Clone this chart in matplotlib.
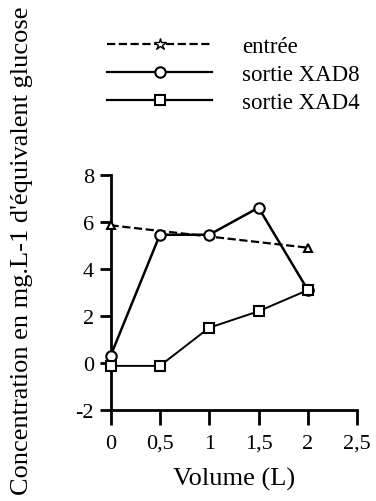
import matplotlib.pyplot as plt
from matplotlib.lines import Line2D

# data
volume = [0, 0.5, 1.0, 1.5, 2.0]
entree_x = [0, 2.0]
entree_y = [5.85, 4.9]
xad8 = [0.3, 5.45, 5.45, 6.6, 3.1]
xad4 = [-0.12, -0.12, 1.5, 2.2, 3.1]
xticks = [0, 0.5, 1, 1.5, 2, 2.5]
xtick_labels = ["0", "0,5", "1", "1,5", "2", "2,5"]
yticks = [-2, 0, 2, 4, 6, 8]

plt.rcParams["font.family"] = ["Liberation Serif", "DejaVu Serif"]
plt.rcParams["axes.unicode_minus"] = False

fig = plt.figure(figsize=(3.76, 5.02), dpi=100)
ax = fig.add_axes([0.294, 0.181, 0.656, 0.469])

ax.plot(entree_x, entree_y, ls="--", color="black", lw=1.6, marker="^",
        mfc="white", mec="black", ms=6, mew=1.5, clip_on=False, zorder=3)
ax.plot(volume, xad8, ls="-", color="black", lw=1.8, marker="o",
        mfc="white", mec="black", ms=7.5, mew=1.5, clip_on=False, zorder=4)
ax.plot(volume, xad4, ls="-", color="black", lw=1.4, marker="s",
        mfc="white", mec="black", ms=7, mew=1.5, clip_on=False, zorder=4)

ax.set_xlim(0, 2.5)
ax.set_ylim(-2, 8)
ax.set_xticks(xticks)
ax.set_xticklabels(xtick_labels)
ax.set_yticks(yticks)
ax.spines["top"].set_visible(False)
ax.spines["right"].set_visible(False)
for s in ["left", "bottom"]:
    ax.spines[s].set_linewidth(2)
ax.tick_params(axis="y", direction="out", length=8, width=2, labelsize=16, pad=4)
ax.tick_params(axis="x", direction="out", length=11, width=2, labelsize=16, pad=6)

ax.set_xlabel("Volume (L)", fontsize=19, labelpad=10)
fig.text(0.058, 0.5, "Concentration en mg.L-1 d'équivalent glucose",
         rotation=90, ha="center", va="center", fontsize=19)

handles = [
    Line2D([], [], ls="--", color="black", lw=1.6, marker="*", mfc="white",
           mec="black", ms=9),
    Line2D([], [], ls="-", color="black", lw=1.6, marker="o", mfc="white",
           mec="black", ms=7.5, mew=1.5),
    Line2D([], [], ls="-", color="black", lw=1.6, marker="s", mfc="white",
           mec="black", ms=7, mew=1.5),
]
fig.legend(handles, ["entrée", "sortie XAD8", "sortie XAD4"],
           loc="upper left", bbox_to_anchor=(0.26, 0.944), frameon=False,
           fontsize=16.5, handlelength=4.6, handletextpad=1.3,
           labelspacing=0.3, borderaxespad=0)

fig.savefig("out.png", dpi=100)
